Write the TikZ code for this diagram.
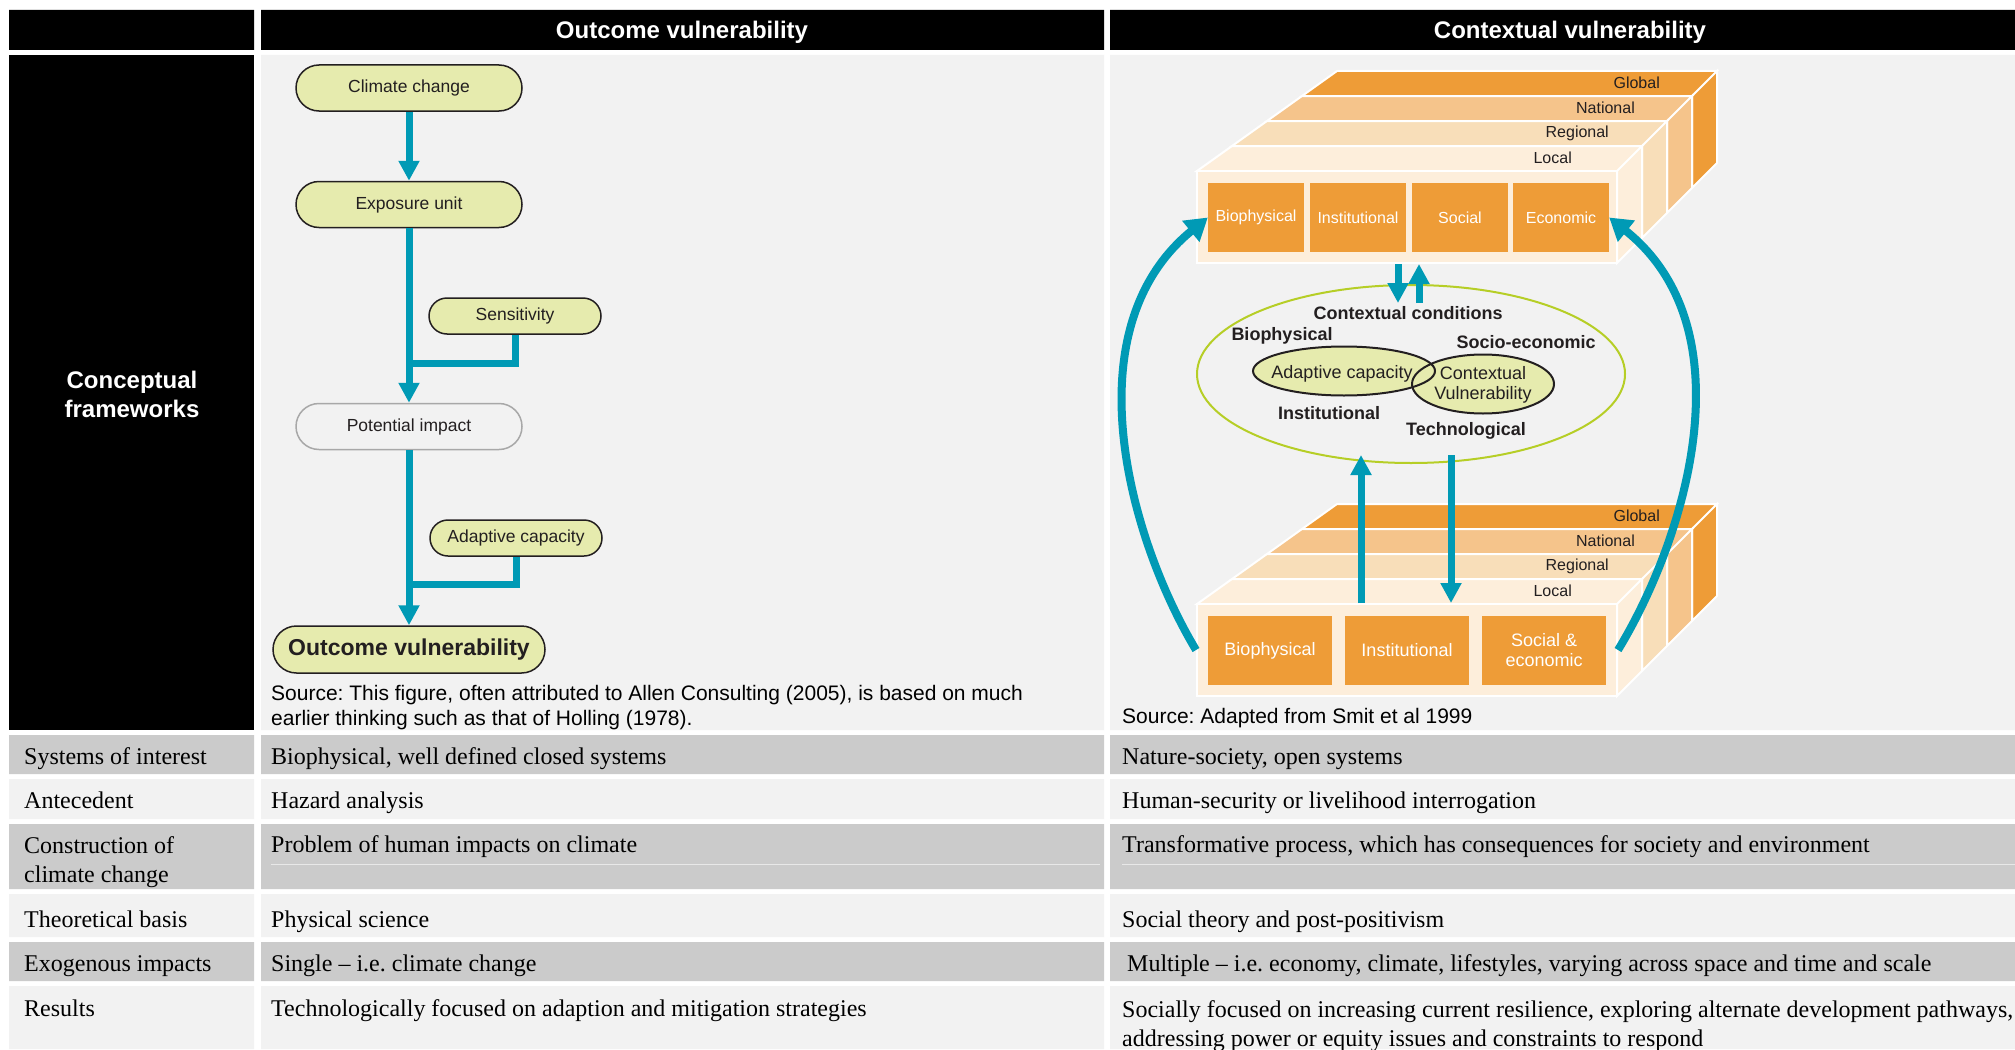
\documentclass[tikz,border=0pt]{standalone}
\usepackage{fontspec}
\setmainfont{Liberation Serif}
\setsansfont{Liberation Sans}
\usetikzlibrary{shapes.geometric, arrows.meta, positioning}
\frenchspacing

\definecolor{ink}{HTML}{231F20}
\definecolor{panel}{HTML}{F2F2F2}
\definecolor{band}{HTML}{CBCBCB}
\definecolor{flowblue}{HTML}{009AB5}
\definecolor{pale}{HTML}{E6EBAE}
\definecolor{globalc}{HTML}{EE9C37}
\definecolor{nationalc}{HTML}{F5C48B}
\definecolor{regionalc}{HTML}{F8DEB9}
\definecolor{localc}{HTML}{FDEEDB}
\definecolor{limec}{HTML}{B6CE26}
\definecolor{rimgray}{HTML}{A8A8A8}

\begin{document}
\begin{tikzpicture}[x=1pt, y=-1pt,
    pill/.style={rectangle, rounded corners=23pt, minimum width=226pt, minimum height=46pt, inner sep=0pt, draw=ink, line width=1.5pt, fill=pale, text=ink, font=\sffamily\fontsize{17.5}{21}\selectfont},
    minipill/.style={pill, rounded corners=18pt, minimum width=172pt, minimum height=36pt},
    flow/.style={draw=flowblue, line width=7pt, -{Triangle[width=20pt, length=20pt]}},
    link/.style={draw=flowblue, line width=7pt},
    arcflow/.style={draw=flowblue, line width=8pt, -{Triangle[width=26pt, length=22pt]}},
    colhead/.style={inner sep=0pt, text=white, font=\sffamily\bfseries\fontsize{24}{29}\selectfont, text height=17pt, text depth=5pt},
    cellt/.style={anchor=west, inner sep=0pt, font=\fontsize{24}{29}\selectfont, text height=16pt, text depth=5pt},
    celltt/.style={anchor=north west, inner sep=0pt, align=left, font=\fontsize{24}{29}\selectfont},
    srcnote/.style={anchor=north west, inner sep=0pt, align=left, text=black, font=\sffamily\fontsize{21}{25}\selectfont},
    slab/.style={draw=white, line width=2pt},
    frontface/.style={rectangle, draw=white, line width=2pt, fill=localc, minimum width=420pt, minimum height=92pt, inner sep=0pt},
    layerlab/.style={anchor=east, inner sep=0pt, text=ink, font=\sffamily\fontsize{16}{19}\selectfont},
    sector/.style={rectangle, fill=globalc, text=white, minimum height=69pt, inner sep=0pt, align=center, font=\sffamily\fontsize{16}{19}\selectfont},
    ctxlab/.style={inner sep=0pt, text=ink, font=\sffamily\bfseries\fontsize{18}{21}\selectfont},
    ctxtxt/.style={inner sep=0pt, text=ink, align=center, font=\sffamily\fontsize{18}{19.5}\selectfont}
  ]
  \useasboundingbox (0,0) rectangle (2015,1049);
  \fill[white] (0,0) rectangle (2015,1049);

  % Header row
  \fill[black] (9,10) rectangle (254,50) (261,10) rectangle (1104,50) (1110,10) rectangle (2015,50);
  \node[colhead] (hout) at (682,33) {Outcome vulnerability};
  \node[colhead] (hctx) at (1570,33) {Contextual vulnerability};

  % Conceptual frameworks row
  \fill[black] (9,55) rectangle (254,730);
  \fill[panel] (261,55) rectangle (1104,730) (1110,55) rectangle (2015,730);
  \node[inner sep=0pt, text=white, align=center, font=\sffamily\bfseries\fontsize{24}{29}\selectfont] (cf) at (132,394) {Conceptual\\frameworks};

  % Table rows
  \fill[band] (9,735) rectangle (254,774) (261,735) rectangle (1104,774) (1110,735) rectangle (2015,774);
  \fill[panel] (9,779) rectangle (254,819) (261,779) rectangle (1104,819) (1110,779) rectangle (2015,819);
  \fill[band] (9,824) rectangle (254,889) (261,824) rectangle (1104,889) (1110,824) rectangle (2015,889);
  \fill[panel] (9,894) rectangle (254,937) (261,894) rectangle (1104,937) (1110,894) rectangle (2015,937);
  \fill[band] (9,942) rectangle (254,981) (261,942) rectangle (1104,981) (1110,942) rectangle (2015,981);
  \fill[panel] (9,986) rectangle (254,1049) (261,986) rectangle (1104,1049) (1110,986) rectangle (2015,1049);
  \draw[band!45!white, line width=1pt] (271,864) -- (1100,864) (1122,864) -- (2015,864);

  \node[cellt] (r1a) at (24,759) {Systems of interest};
  \node[cellt] (r1b) at (271,759) {Biophysical, well defined closed systems};
  \node[cellt] (r1c) at (1122,759) {Nature-society, open systems};

  \node[cellt] (r2a) at (24,803) {Antecedent};
  \node[cellt] (r2b) at (271,803) {Hazard analysis};
  \node[cellt] (r2c) at (1122,803) {Human-security or livelihood interrogation};

  \node[celltt] (r3a) at (24,836.5) {Construction of\\climate change};
  \node[cellt] (r3b) at (271,847) {Problem of human impacts on climate};
  \node[cellt] (r3c) at (1122,847) {Transformative process, which has consequences for society and environment};

  \node[cellt] (r4a) at (24,922) {Theoretical basis};
  \node[cellt] (r4b) at (271,922) {Physical science};
  \node[cellt] (r4c) at (1122,922) {Social theory and post-positivism};

  \node[cellt] (r5a) at (24,966) {Exogenous impacts};
  \node[cellt] (r5b) at (271,966) {Single \textendash\ i.e. climate change};
  \node[cellt] (r5c) at (1127,966) {Multiple \textendash\ i.e. economy, climate, lifestyles, varying across space and time and scale};

  \node[cellt] (r6a) at (24,1011) {Results};
  \node[cellt] (r6b) at (271,1011) {Technologically focused on adaption and mitigation strategies};
  \node[celltt] (r6c) at (1122,1000) {Socially focused on increasing current resilience, exploring alternate development pathways,\\addressing power or equity issues and constraints to respond};

  % Outcome vulnerability flow
  \node[pill] (cc) at (409,88) {Climate change};
  \node[pill] (eu) at (409,204.5) {Exposure unit};
  \node[minipill] (sens) at (515,316) {Sensitivity};
  \node[pill, draw=rimgray, fill=panel] (pi) at (409,426.5) {Potential impact};
  \node[minipill] (ac) at (516,538) {Adaptive capacity};
  \node[pill, minimum width=272pt, minimum height=47pt, rounded corners=23.5pt, font=\sffamily\bfseries\fontsize{23}{27}\selectfont] (ov) at (409,649.5) {Outcome vulnerability};

  \coordinate (j1) at (409,363);
  \coordinate (j2) at (409,584);
  \draw[link] (sens.south) |- (j1);
  \draw[link] (ac.south) |- (j2);
  \draw[flow] (cc) -- (eu);
  \draw[flow] (eu) -- (pi);
  \draw[flow] (pi) -- (ov);

  \node[srcnote] (srcl) at (271,685) {Source: This figure, often attributed to Allen Consulting (2005), is based on much\\earlier thinking such as that of Holling (1978).};

  % Contextual vulnerability: upper block
  \filldraw[slab, fill=globalc] (1302,96) -- (1337,71) -- (1717,71) -- (1692,96) -- cycle (1692,96) -- (1717,71) -- (1717,163) -- (1692,188) -- cycle;
  \filldraw[slab, fill=nationalc] (1267,121) -- (1302,96) -- (1692,96) -- (1667,121) -- cycle (1667,121) -- (1692,96) -- (1692,188) -- (1667,213) -- cycle;
  \filldraw[slab, fill=regionalc] (1232,146) -- (1267,121) -- (1667,121) -- (1642,146) -- cycle (1642,146) -- (1667,121) -- (1667,213) -- (1642,238) -- cycle;
  \filldraw[slab, fill=localc] (1197,171) -- (1232,146) -- (1642,146) -- (1617,171) -- cycle (1617,171) -- (1642,146) -- (1642,238) -- (1617,263) -- cycle;
  \node[frontface] (tfront) at (1407,217) {};
  \node[layerlab] (tglob) at (1660,83) {Global};
  \node[layerlab] (tnat) at (1635,108) {National};
  \node[layerlab] (treg) at (1609,133) {Regional};
  \node[layerlab] (tloc) at (1572,158) {Local};
  \node[sector, minimum width=96pt] (tbio) at (1256,217.5) {Biophysical};
  \node[sector, minimum width=96pt] (tinst) at (1358,217.5) {Institutional};
  \node[sector, minimum width=96pt] (tsoc) at (1460,217.5) {Social};
  \node[sector, minimum width=96pt] (tecon) at (1561,217.5) {Economic};

  % Contextual vulnerability: lower block
  \begin{scope}[shift={(0,433)}]
    \filldraw[slab, fill=globalc] (1302,96) -- (1337,71) -- (1717,71) -- (1692,96) -- cycle (1692,96) -- (1717,71) -- (1717,163) -- (1692,188) -- cycle;
    \filldraw[slab, fill=nationalc] (1267,121) -- (1302,96) -- (1692,96) -- (1667,121) -- cycle (1667,121) -- (1692,96) -- (1692,188) -- (1667,213) -- cycle;
    \filldraw[slab, fill=regionalc] (1232,146) -- (1267,121) -- (1667,121) -- (1642,146) -- cycle (1642,146) -- (1667,121) -- (1667,213) -- (1642,238) -- cycle;
    \filldraw[slab, fill=localc] (1197,171) -- (1232,146) -- (1642,146) -- (1617,171) -- cycle (1617,171) -- (1642,146) -- (1642,238) -- (1617,263) -- cycle;
    \node[frontface] (bfront) at (1407,217) {};
    \node[layerlab] (bglob) at (1660,83) {Global};
    \node[layerlab] (bnat) at (1635,108) {National};
    \node[layerlab] (breg) at (1609,133) {Regional};
    \node[layerlab] (bloc) at (1572,158) {Local};
    \node[sector, minimum width=124pt, font=\sffamily\fontsize{18}{20}\selectfont] (bbio) at (1270,217.5) {Biophysical};
    \node[sector, minimum width=124pt, font=\sffamily\fontsize{18}{20}\selectfont] (binst) at (1407,217.5) {Institutional};
    \node[sector, minimum width=124pt, font=\sffamily\fontsize{18}{20}\selectfont] (bsoc) at (1544,217.5) {Social \&\\economic};
  \end{scope}

  % Contextual conditions
  \node[ellipse, draw=limec, line width=2pt, minimum width=428pt, minimum height=178pt, inner sep=0pt] (ctx) at (1411,374) {};
  \fill[pale] (1344,371) ellipse [x radius=91pt, y radius=24.5pt];
  \fill[pale] (1483,384) ellipse [x radius=71pt, y radius=29.5pt];
  \draw[ink, line width=2pt] (1344,371) ellipse [x radius=91pt, y radius=24.5pt];
  \draw[ink, line width=2pt] (1483,384) ellipse [x radius=71pt, y radius=29.5pt];
  \node[ctxtxt] (tacap) at (1342,374) {Adaptive capacity};
  \node[ctxtxt] (tcvul) at (1483,385) {Contextual\\Vulnerability};
  \node[ctxlab] (lcond) at (1408,313) {Contextual conditions};
  \node[ctxlab] (lbio) at (1282,336) {Biophysical};
  \node[ctxlab] (lsoc) at (1526,342) {Socio-economic};
  \node[ctxlab] (linst) at (1329,413) {Institutional};
  \node[ctxlab] (ltech) at (1466,431) {Technological};

  % Arrows
  \coordinate (d1) at (1398,303);
  \coordinate (u1) at (1419,303);
  \coordinate (u2) at (1361,455);
  \coordinate (d2) at (1451,455);
  \draw[flow] (tfront.south -| d1) -- (d1);
  \draw[flow] (u1) -- (tfront.south -| u1);
  \draw[flow] (bfront.north -| u2) -- (u2);
  \draw[flow] (d2) -- (bfront.north -| d2);
  \draw[arcflow] (bfront.west) .. controls (1130,540) and (1070,330) .. (tbio.west);
  \draw[arcflow] (bfront.east) .. controls (1685,540) and (1750,330) .. (tecon.east);

  \node[srcnote, anchor=west] (srcr) at (1122,718) {Source: Adapted from Smit et al 1999};
\end{tikzpicture}
\end{document}
